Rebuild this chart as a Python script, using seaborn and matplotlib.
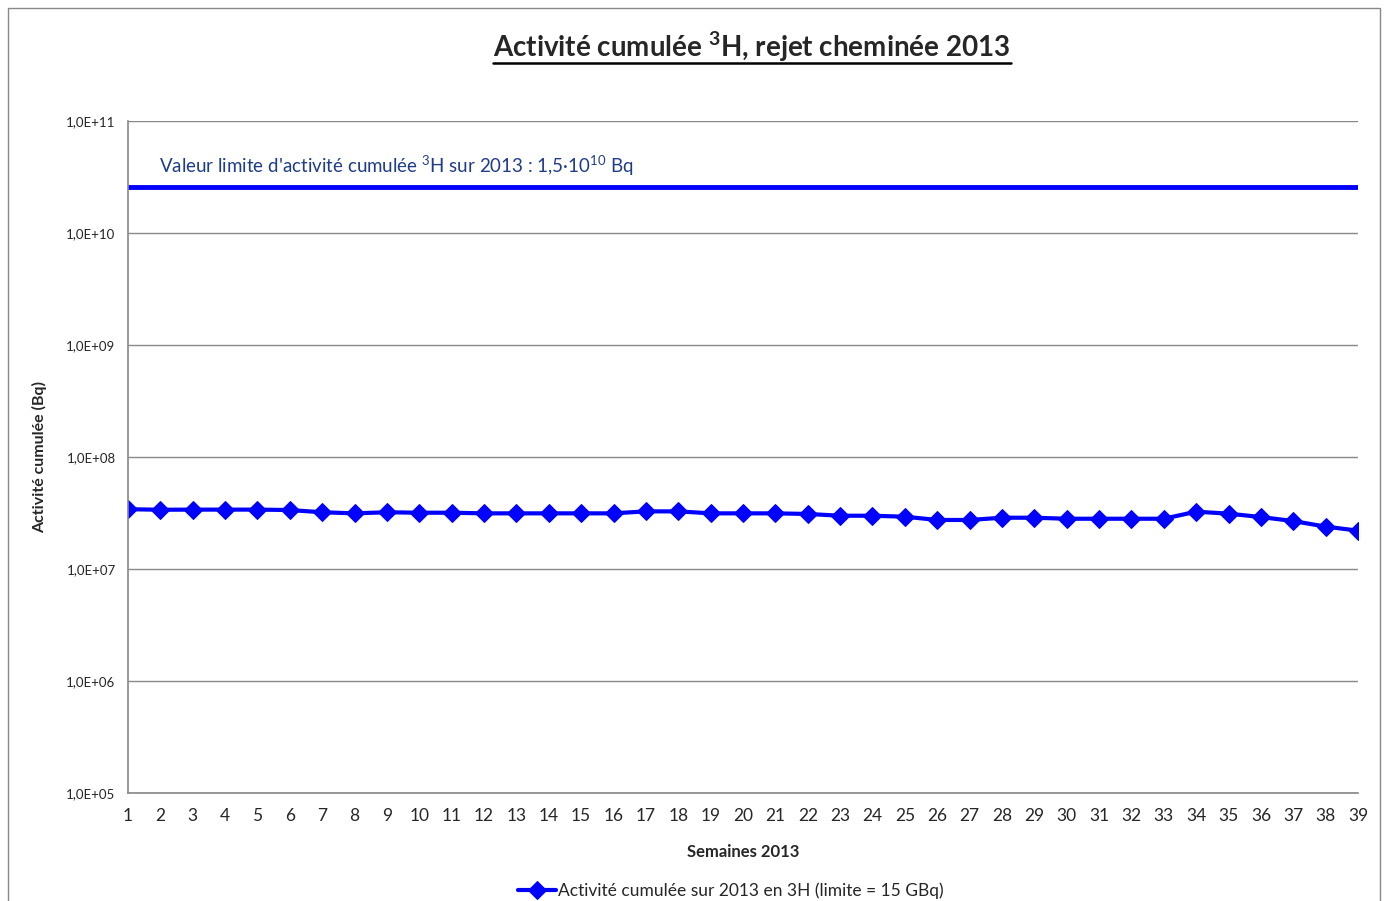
import numpy as np
import pandas as pd
import matplotlib.pyplot as plt
import matplotlib.ticker as mticker
from matplotlib.patches import Rectangle
import seaborn as sns

# values
weeks = list(range(1, 40))
activity = [3.42e7, 3.38e7, 3.39e7, 3.39e7, 3.39e7, 3.36e7, 3.21e7, 3.14e7, 3.21e7, 3.18e7,
            3.18e7, 3.14e7, 3.14e7, 3.14e7, 3.14e7, 3.14e7, 3.27e7, 3.27e7, 3.14e7, 3.14e7,
            3.14e7, 3.10e7, 2.99e7, 2.99e7, 2.93e7, 2.74e7, 2.74e7, 2.87e7, 2.87e7, 2.81e7,
            2.81e7, 2.81e7, 2.81e7, 3.25e7, 3.12e7, 2.91e7, 2.68e7, 2.39e7, 2.20e7]
limit_value = 2.55e10
y_ticks = [1e5, 1e6, 1e7, 1e8, 1e9, 1e10, 1e11]
y_tick_labels = ["1,0E+05", "1,0E+06", "1,0E+07", "1,0E+08", "1,0E+09", "1,0E+10", "1,0E+11"]

series_name = "Activité cumulée sur 2013 en 3H (limite = 15 GBq)"
df = pd.DataFrame({"Semaine": weeks, "Activite": activity})

sns.set_style("white")
plt.rcParams["font.family"] = ["Lato", "DejaVu Sans"]
plt.rcParams["mathtext.fontset"] = "custom"
plt.rcParams["mathtext.rm"] = "Lato"
plt.rcParams["mathtext.bf"] = "Lato:bold"

fig = plt.figure(figsize=(13.88, 9.01), dpi=100)
ax = fig.add_axes([128 / 1388, 1 - 793 / 901, (1358 - 128) / 1388, (793 - 121) / 901])

# outer chart frame
fig.patches.append(Rectangle((8 / 1388, -0.01), (1380 - 8) / 1388, 1 - 8 / 901 + 0.01,
                             transform=fig.transFigure, fill=False, edgecolor="#888888", lw=1))

blue = "#0000FF"
sns.lineplot(data=df, x="Semaine", y="Activite", ax=ax, color=blue, lw=3,
             marker="D", markersize=9, markeredgecolor=blue, label=series_name)
ax.axhline(limit_value, color=blue, lw=3.5)

ax.set_yscale("log")
ax.set_ylim(1e5, 1e11)
ax.set_xlim(1, 39)
ax.set_yticks(y_ticks)
ax.set_yticklabels(y_tick_labels)
ax.yaxis.set_minor_locator(mticker.LogLocator(base=10, subs=(2, 4, 6, 8)))
ax.yaxis.set_minor_formatter(mticker.NullFormatter())
ax.set_xticks(weeks)
ax.set_xticklabels([str(w) for w in weeks])

ax.grid(axis="y", which="major", color="#888888", lw=1)
ax.grid(axis="x", visible=False)
for s in ["top", "right"]:
    ax.spines[s].set_visible(False)
for s in ["left", "bottom"]:
    ax.spines[s].set_color("#888888")
    ax.spines[s].set_linewidth(1.2)

ax.tick_params(axis="y", which="major", direction="out", length=5, color="#888888",
               labelsize=9.5, pad=4)
ax.tick_params(axis="y", which="minor", direction="out", length=3, color="#888888")
ax.tick_params(axis="x", direction="out", length=4, color="#888888", labelsize=12.5, pad=7)

ax.set_xlabel("Semaines 2013", fontsize=12, fontweight="bold", labelpad=14)
ax.set_ylabel("Activité cumulée (Bq)", fontsize=11.5, fontweight="bold", labelpad=14)

ax.text(0.025, 0.934, r"Valeur limite d'activité cumulée $^{3}$H sur 2013 : 1,5·10$^{10}$ Bq",
        transform=ax.transAxes, fontsize=13.5, color="#1F3C88", va="center", ha="left")

title = fig.text(752 / 1388, 1 - 47 / 901, r"Activité cumulée $\mathbf{^{3}}$H, rejet cheminée 2013",
                 ha="center", va="center", fontsize=20, fontweight="bold")

leg = ax.legend(loc="upper center", bbox_to_anchor=(0.49, -0.123), frameon=False,
                fontsize=12.5, handlelength=2.2, handletextpad=0.1, borderaxespad=0)

# underline the title
fig.canvas.draw()
bb = title.get_window_extent().transformed(fig.transFigure.inverted())
fig.add_artist(plt.Line2D([bb.x0, bb.x1], [bb.y0 + 0.001, bb.y0 + 0.001],
                          transform=fig.transFigure, color="black", lw=1.8))

fig.savefig("out.png", dpi=100)
